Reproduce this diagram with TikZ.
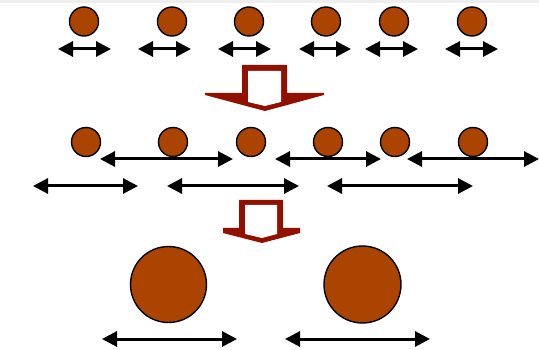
\documentclass[tikz,border=0pt]{standalone}
\usetikzlibrary{arrows.meta}
\definecolor{ballc}{RGB}{170,68,0}
\definecolor{bigred}{RGB}{145,16,0}
\definecolor{bandgray}{RGB}{238,238,238}
\tikzset{
  ball/.style={circle,draw=black,line width=1.4pt,fill=ballc,inner sep=0pt,minimum size=#1},
  dbl/.style={line width=3pt,{Triangle[length=15pt,width=15pt]}-{Triangle[length=15pt,width=15pt]}},
  hollowout/.style={fill=bigred,draw=none},
  hollowin/.style={fill=white,draw=none}
}
\begin{document}
\begin{tikzpicture}[x=1pt,y=-1pt]
\useasboundingbox (0,0) rectangle (539,350);
\fill[bandgray] (0,0) rectangle (539,3);
% top row
\foreach \n/\x in {1/84,2/172,3/249,4/326,5/394,6/472}
  \node[ball=29pt] (t\n) at (\x,21.5) {};
\foreach \n/\a/\b in {1/58/111,2/138/191,3/218/271,4/299/351,5/365/418,6/445/498}{
  \coordinate (ta\n) at (\a,49);
  \coordinate (tb\n) at (\b,49);
  \draw[dbl] (ta\n) -- (tb\n);
}
% first hollow arrow
\fill[hollowout] (242,65) -- (287,65) -- (287,93) -- (324,93) -- (324,95) -- (265,111) -- (205,95) -- (205,93) -- (242,93) -- cycle;
\fill[hollowin] (248,71) -- (281,71) -- (281,102) -- (265,106) -- (248,102) -- cycle;
% second row
\foreach \n/\x in {1/86,2/173,3/251,4/328,5/395,6/473}
  \node[ball=29pt] (m\n) at (\x,142) {};
\foreach \n/\a/\b in {1/100/233,2/275/381,3/407/539}{
  \coordinate (ua\n) at (\a,159);
  \coordinate (ub\n) at (\b,159);
  \draw[dbl] (ua\n) -- (ub\n);
}
\foreach \n/\a/\b in {1/33/138,2/167/299,3/327/473}{
  \coordinate (la\n) at (\a,186);
  \coordinate (lb\n) at (\b,186);
  \draw[dbl] (la\n) -- (lb\n);
}
% second hollow arrow
\fill[hollowout] (239,200) -- (283,200) -- (283,228) -- (300,228) -- (300,233) -- (262,243) -- (223,233) -- (223,228) -- (239,228) -- cycle;
\fill[hollowin] (245,205) -- (277,205) -- (277,234) -- (262,238) -- (245,234) -- cycle;
% bottom row
\node[ball=76pt] (b1) at (168.5,284.5) {};
\node[ball=77pt] (b2) at (362.5,284.5) {};
\coordinate (ba1) at (102,339);
\coordinate (bb1) at (237,339);
\coordinate (ba2) at (285,339);
\coordinate (bb2) at (430,339);
\draw[dbl] (ba1) -- (bb1);
\draw[dbl] (ba2) -- (bb2);
\end{tikzpicture}
\end{document}
